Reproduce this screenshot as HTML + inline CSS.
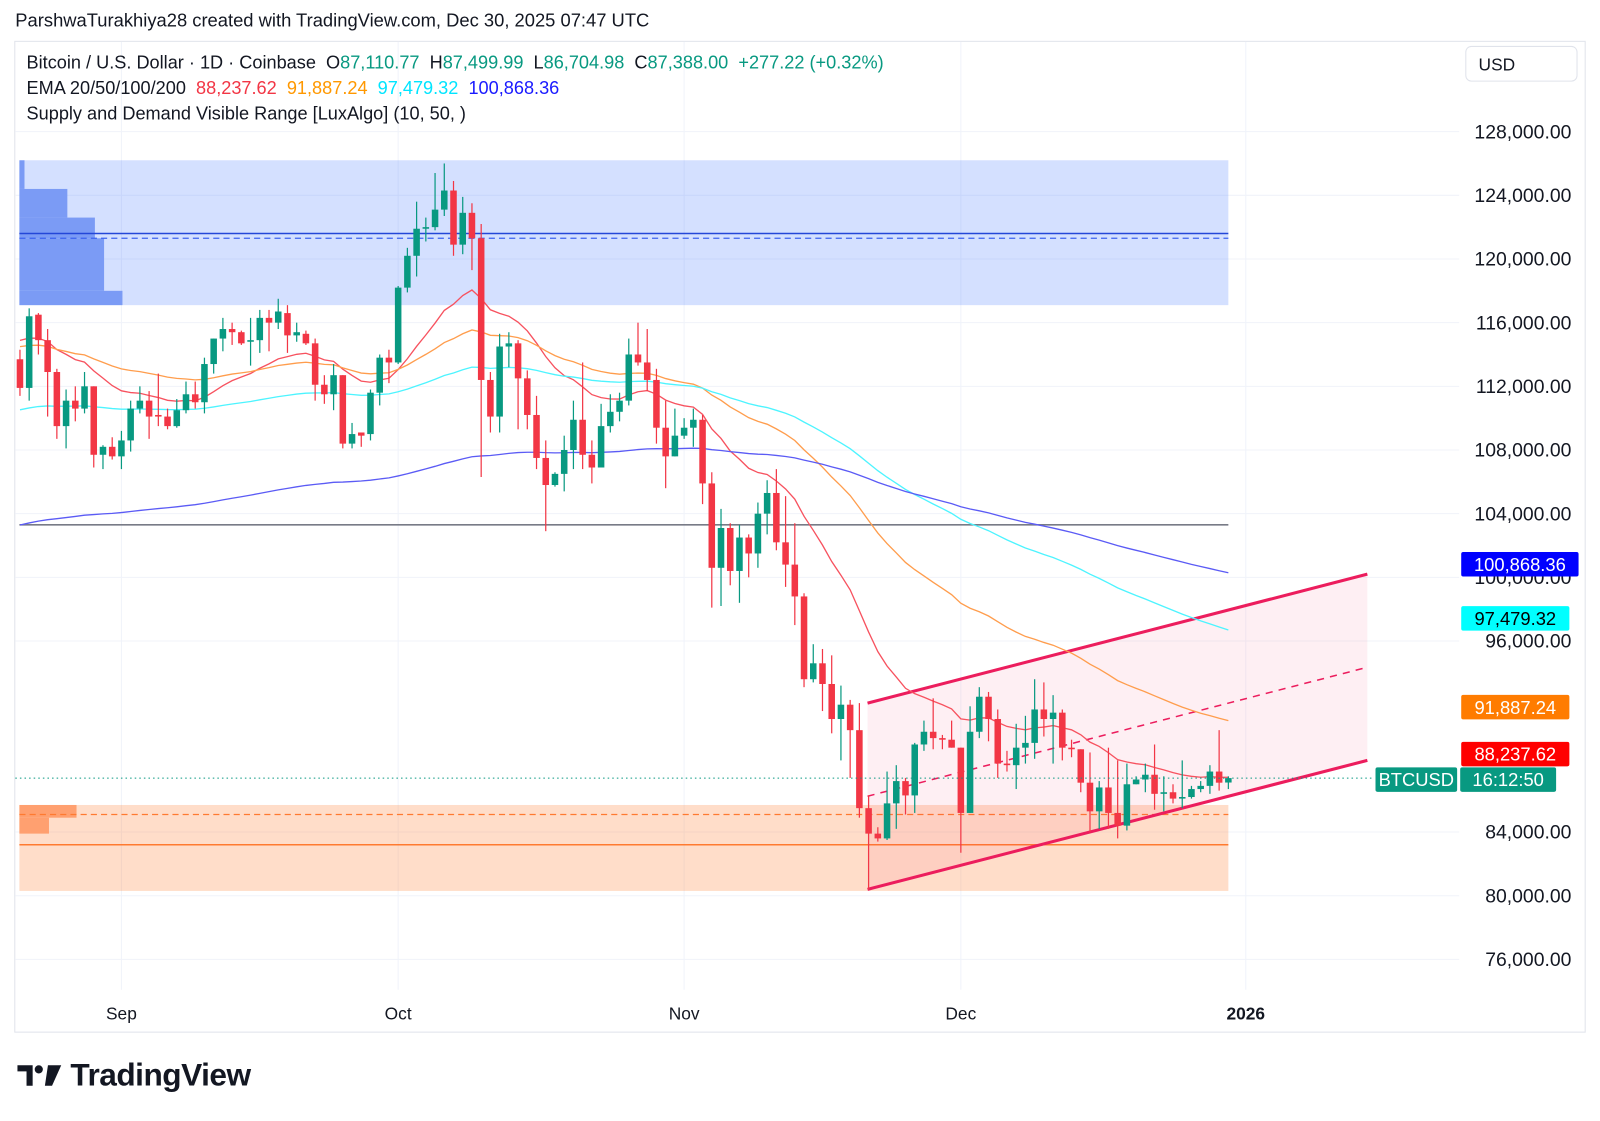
<!DOCTYPE html>
<html><head><meta charset="utf-8">
<style>
body{margin:0;background:#fff;width:1600px;height:1121px;overflow:hidden;font-family:"Liberation Sans",sans-serif;}
#wrap{position:relative;width:1568px;height:1099px;transform:scale(1.0204);transform-origin:0 0;}
svg#chart{position:absolute;left:0;top:0;}
.hdr{position:absolute;left:15px;top:10px;font-size:18px;color:#131722;}
.leg{position:absolute;left:26px;font-size:17.8px;color:#131722;white-space:nowrap;}
.usd{position:absolute;left:1436px;top:45px;width:110px;height:35px;border:1px solid #e0e3eb;border-radius:6px;box-sizing:border-box;font-size:17px;padding:8px 0 0 12px;color:#131722;}
.logo{position:absolute;left:17px;top:1036px;font-size:31px;font-weight:bold;color:#131722;letter-spacing:-0.5px;display:flex;align-items:center;gap:8px;}
</style></head><body>
<div id="wrap">
<div class="hdr">ParshwaTurakhiya28 created with TradingView.com, Dec 30, 2025 07:47 UTC</div>
<svg id="chart" width="1568" height="1099"></svg>
<div class="leg" style="top:51px">Bitcoin / U.S. Dollar · 1D · Coinbase&nbsp; O<span style="color:#089981">87,110.77</span>&nbsp; H<span style="color:#089981">87,499.99</span>&nbsp; L<span style="color:#089981">86,704.98</span>&nbsp; C<span style="color:#089981">87,388.00</span>&nbsp; <span style="color:#089981">+277.22 (+0.32%)</span></div>
<div class="leg" style="top:76px">EMA 20/50/100/200&nbsp; <span style="color:#f23645">88,237.62</span>&nbsp; <span style="color:#ff9800">91,887.24</span>&nbsp; <span style="color:#00e5ff">97,479.32</span>&nbsp; <span style="color:#1a1aff">100,868.36</span></div>
<div class="leg" style="top:101px">Supply and Demand Visible Range [LuxAlgo] (10, 50, )</div>
<div class="usd">USD</div>
<div class="logo"><svg width="44" height="24" viewBox="0 0 44 24"><path d="M0 2h15v20h-6V8H0z" fill="#131722"/><circle cx="21" cy="6" r="4" fill="#131722"/><path d="M30 2h13l-9 20h-7z" fill="#131722"/></svg><span>TradingView</span></div>
</div>
<script>
const opens=[113.7,111.9,116.5,114.9,112.9,109.5,111.1,110.6,112.0,107.7,108.2,107.6,108.6,110.6,111.1,110.2,110.1,109.5,110.5,111.5,111.0,113.4,115.0,115.6,115.4,114.8,114.9,116.3,116.0,116.6,115.2,115.3,114.7,112.1,111.5,112.7,108.4,109.1,109.0,111.6,113.8,113.5,118.2,120.2,121.9,122.0,123.1,124.3,120.9,122.9,121.3,112.4,110.1,114.5,114.7,112.5,110.2,107.5,105.8,106.5,108.0,109.9,107.7,106.9,109.5,110.4,111.1,114.0,113.5,112.4,109.4,107.6,108.9,109.4,109.9,105.9,100.6,103.1,100.4,102.5,101.5,104.0,105.3,102.2,100.8,98.8,93.6,94.6,93.3,91.1,92.0,90.4,85.5,83.9,83.6,85.8,87.2,86.3,89.5,90.3,89.9,89.8,89.3,85.2,90.3,92.5,91.1,88.3,88.2,89.3,89.6,91.7,91.1,91.5,89.3,89.2,87.1,85.3,86.8,85.2,84.4,87.0,87.3,87.6,86.4,86.5,86.1,86.2,86.7,86.9,87.8,87.11];
const highs=[114.3,116.9,116.6,115.6,113.1,111.8,112.0,112.9,112.0,108.3,108.8,109.2,111.1,112.0,111.7,112.8,110.6,111.2,112.3,112.3,113.8,115.0,116.3,116.0,115.5,116.3,116.8,116.8,117.5,117.1,116.0,115.5,115.0,112.7,113.4,112.7,109.7,109.1,111.8,114.0,114.3,118.3,120.7,123.6,122.6,125.4,126.0,124.9,123.9,123.5,122.2,112.9,115.3,115.4,114.9,113.0,111.4,108.6,106.6,108.9,111.1,113.5,108.6,110.9,111.5,111.6,115.0,116.0,115.6,113.1,111.1,110.6,110.0,110.6,110.2,106.6,104.3,103.4,103.3,102.7,104.7,106.1,106.8,105.1,103.4,99.0,95.8,95.5,95.1,93.2,92.3,92.1,86.3,84.3,87.8,88.2,87.4,89.6,91.0,92.4,90.1,91.0,89.3,91.9,93.1,92.8,91.7,89.1,90.8,91.3,93.6,93.4,92.6,91.7,89.8,89.2,89.0,87.2,89.3,88.5,88.3,87.5,88.3,89.5,87.5,87.0,88.5,86.9,87.2,88.2,90.4,87.50];
const lows=[111.4,111.1,114.0,110.1,108.7,108.1,109.8,110.3,106.9,106.8,107.4,106.8,107.9,110.3,108.7,109.5,109.3,109.4,110.3,110.6,110.3,112.8,114.2,114.6,114.6,113.3,114.1,114.2,115.6,114.1,114.8,114.6,111.1,110.9,110.5,108.1,108.1,108.2,108.6,110.8,112.2,113.4,117.9,118.9,121.1,121.8,122.7,120.2,120.3,119.3,106.3,109.1,109.1,113.2,109.3,109.3,106.8,102.9,105.7,105.4,106.8,106.8,105.9,106.9,109.1,109.8,110.8,113.3,111.7,108.4,105.6,107.6,108.7,108.2,104.6,98.1,98.2,99.5,98.4,100.0,100.6,102.7,101.7,99.4,97.0,93.1,93.4,91.6,90.2,88.5,87.4,84.9,80.4,83.4,83.5,84.2,85.1,85.2,89.1,89.2,89.2,89.3,82.7,85.2,89.9,89.7,87.4,87.8,86.7,88.3,88.6,90.0,88.3,88.5,88.7,86.5,84.0,84.2,84.2,83.6,84.1,87.0,86.5,85.4,85.3,85.8,85.5,86.1,86.5,86.4,86.6,86.70];
const closes=[111.9,116.4,114.9,112.9,109.5,111.1,110.6,112.0,107.7,108.2,107.6,108.6,110.6,111.1,110.1,110.1,109.5,110.5,111.5,111.0,113.4,115.0,115.6,115.4,114.7,114.9,116.3,116.0,116.7,115.2,115.4,114.7,112.1,111.5,112.7,108.4,109.0,108.9,111.6,113.8,113.5,118.2,120.2,121.9,122.0,123.1,124.3,120.9,122.9,121.3,112.4,110.1,114.5,114.7,112.5,110.2,107.5,105.8,106.5,108.0,109.9,107.7,106.9,109.5,110.4,111.1,114.0,113.5,112.4,109.4,107.6,108.9,109.4,109.9,105.9,100.6,103.1,100.4,102.5,101.5,104.0,105.3,102.2,100.8,98.8,93.6,94.6,93.3,91.1,92.0,90.4,85.5,83.9,83.6,85.8,87.2,86.3,89.5,90.3,89.9,89.8,89.3,85.2,90.3,92.5,91.1,88.3,88.2,89.3,89.6,91.7,91.1,91.5,89.3,89.2,87.1,85.3,86.8,85.2,84.4,87.0,87.3,87.6,86.4,86.5,86.1,86.2,86.7,86.9,87.8,87.1,87.388];
const emaPeriods=[20,50,100,200];
const emaSeeds=[115.2,114.6,110.5,103.2];
const emaColors=['#f7525f','#ff9d4d','#4df4ff','#5b5bf5'];
const priceTicks=[128,124,120,116,112,108,104,100,96,84,80,76];
const monthLabels=['Sep','Oct','Nov','Dec','2026'];
const monthIdx=[11,41,72,102,133];

const NS='http://www.w3.org/2000/svg';
const svg=document.getElementById('chart');
function X(i){return 119+(i-11)*9.04;}
function Y(p){return 129+(128-p)*15.6;}
function mk(tag,attrs,parent){const e=document.createElementNS(NS,tag);for(const k in attrs)e.setAttribute(k,attrs[k]);(parent||svg).appendChild(e);return e;}
let fr=mk('rect',{x:14.5,y:40.5,width:1539,height:971,fill:'none',stroke:'#e0e3eb'});


priceTicks.forEach(p=>{let g=mk('line',{x1:15,x2:1430,y1:Y(p),y2:Y(p),stroke:'#f0f3fa'});


let t=mk('text',{x:1540,y:Y(p)+6.5,'text-anchor':'end','font-size':19,fill:'#131722'});t.textContent=p.toFixed(0)+',000.00';

});
monthIdx.forEach((m,k)=>{let x=X(m)-(k==4?1:0);let g=mk('line',{x1:x,x2:x,y1:41,y2:970,stroke:'#f0f3fa'});


let t=mk('text',{x:x,y:999,'text-anchor':'middle','font-size':17,fill:'#131722','font-weight':k==4?'bold':'normal'});t.textContent=monthLabels[k];

});
const lastI=closes.length-1;
const xL=19,xR=X(lastI);
let sz=mk('rect',{x:xL,y:Y(126.2),width:xR-xL,height:Y(117.1)-Y(126.2),fill:'rgba(41,98,255,0.2)'});


[[126.2,124.4,5],[124.4,122.6,47],[122.6,121.3,74],[121.3,118.0,83],[118.0,117.1,101]].forEach(b=>{let r=mk('rect',{x:xL,y:Y(b[0]),width:b[2],height:Y(b[1])-Y(b[0]),fill:'#7b9bf5'});

});
let sl=mk('line',{x1:xL,x2:xR,y1:Y(121.6),y2:Y(121.6),stroke:'#2447d8','stroke-width':1.5});


let sd=mk('line',{x1:xL,x2:xR,y1:Y(121.3),y2:Y(121.3),stroke:'#3d63f0','stroke-width':1.2,'stroke-dasharray':'6,4'});


let dz=mk('rect',{x:xL,y:Y(85.7),width:xR-xL,height:Y(80.3)-Y(85.7),fill:'rgba(255,120,40,0.25)'});


[[85.7,84.9,56,'#ffa070'],[84.9,83.9,29,'#ffa070']].forEach(b=>{let r=mk('rect',{x:xL,y:Y(b[0]),width:b[2],height:Y(b[1])-Y(b[0]),fill:b[3]});

});
let dl=mk('line',{x1:xL,x2:xR,y1:Y(83.2),y2:Y(83.2),stroke:'#ff7a30','stroke-width':1.5});


let dd=mk('line',{x1:xL,x2:xR,y1:Y(85.1),y2:Y(85.1),stroke:'#ff7a30','stroke-width':1.2,'stroke-dasharray':'6,4'});


let ml=mk('line',{x1:xL,x2:xR,y1:Y(103.3),y2:Y(103.3),stroke:'#787b86','stroke-width':1.5});


const c0=91;const up0=92.1,up1=100.2,lo0=80.4,lo1=88.5;
let ch=mk('polygon',{points:`${X(c0)+8},${Y(up0)} ${1340},${Y(up1)} 1340,${Y(lo1)} ${X(c0)+8},${Y(lo0)}`,fill:'rgba(242,54,107,0.08)'});


[[up0,up1,'upper'],[lo0,lo1,'lower']].forEach(l=>{let e=mk('line',{x1:X(c0)+8,y1:Y(l[0]),x2:1340,y2:Y(l[1]),stroke:'#ec1d5d','stroke-width':3});

});
let cm=mk('line',{x1:X(c0)+8,y1:Y((up0+lo0)/2),x2:1340,y2:Y((up1+lo1)/2),stroke:'#ec1d5d','stroke-width':1.5,'stroke-dasharray':'7,6'});


emaPeriods.forEach((n,k)=>{const a=2/(n+1);let e=emaSeeds[k];let pts=[];closes.forEach((c,i)=>{e=e+a*(c-e);pts.push(X(i).toFixed(1)+','+Y(e).toFixed(1));});
let pl=mk('polyline',{points:pts.join(' '),fill:'none',stroke:emaColors[k],'stroke-width':1.3});

});
closes.forEach((c,i)=>{const o=opens[i],up=c>=o,col=up?'#089981':'#f23645';const x=X(i);
let g=mk('g',{});


mk('line',{x1:x,x2:x,y1:Y(highs[i]),y2:Y(lows[i]),stroke:col,'stroke-width':1.2},g);
const yt=Y(Math.max(o,c)),yb=Y(Math.min(o,c));
mk('rect',{x:x-3.2,y:yt,width:6.4,height:Math.max(1.5,yb-yt),fill:col},g);});
const cy=Y(closes[lastI]);
let cp=mk('line',{x1:15,x2:1346,y1:cy,y2:cy,stroke:'#089981','stroke-width':1,'stroke-dasharray':'1.5,3'});


function lab(txt,y,bg,fg,x,w,name){let g=mk('g',{});


mk('rect',{x:x,y:y-12,width:w,height:24,fill:bg,rx:2},g);let t=mk('text',{x:x+w/2,y:y+6.5,'text-anchor':'middle','font-size':18,fill:fg},g);t.textContent=txt;}
lab('100,868.36',553,'#0000ff','#fff',1432,115,'ema-200-price-label');
lab('97,479.32',606,'#00ffff','#000',1432,106,'ema-100-price-label');
lab('91,887.24',693,'#ff7c00','#fff',1432,106,'ema-50-price-label');
lab('88,237.62',739,'#ff0000','#fff',1432,106,'ema-20-price-label');
lab('BTCUSD',764,'#089981','#fff',1348,80,'symbol-price-label');
lab('16:12:50',764,'#089981','#fff',1431,94,'countdown-label');
</script>
</body></html>
